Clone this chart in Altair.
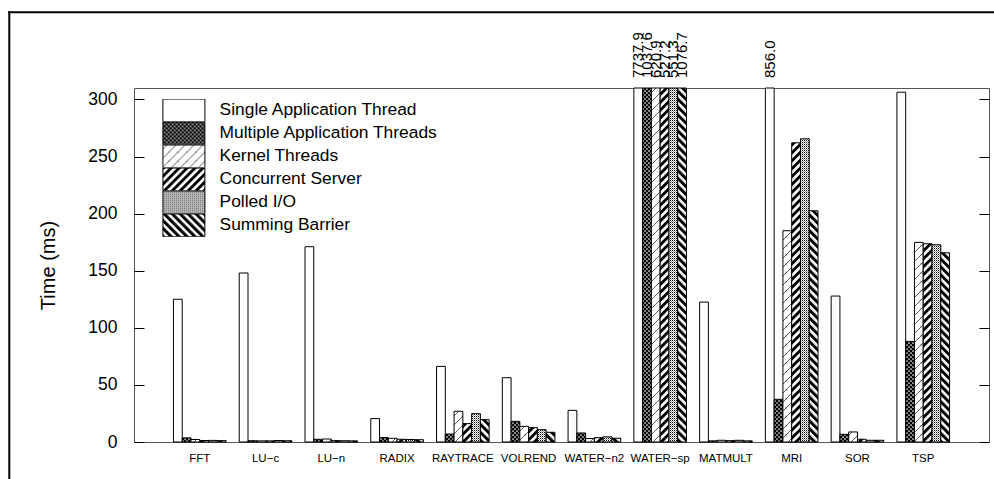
import altair as alt
import pandas as pd
import jinja2

# ---- data -------------------------------------------------------------
benchmarks = ["FFT", "LU\u2212c", "LU\u2212n", "RADIX", "RAYTRACE", "VOLREND",
              "WATER\u2212n2", "WATER\u2212sp", "MATMULT", "MRI", "SOR", "TSP"]
modes = ["Single Application Thread", "Multiple Application Threads",
         "Kernel Threads", "Concurrent Server", "Polled I/O", "Summing Barrier"]

single_app = [125.0, 148.0, 171.0, 20.5, 66.2, 56.3, 27.7, 7737.9, 122.5, 856.0, 127.8, 306.3]
multi_app = [3.6, 1.1, 2.4, 3.9, 7.0, 18.1, 7.9, 1037.6, 1.0, 37.4, 6.7, 88.1]
kernel_thr = [2.2, 1.0, 2.6, 3.2, 26.9, 13.7, 3.0, 620.9, 1.5, 185.0, 8.8, 174.8]
conc_server = [1.3, 1.0, 1.2, 2.4, 16.1, 12.6, 3.8, 527.2, 1.2, 262.0, 2.4, 173.6]
polled_io = [1.4, 1.3, 1.1, 2.2, 24.8, 10.8, 4.5, 551.3, 1.5, 265.5, 1.5, 172.7]
summing_bar = [1.2, 1.1, 1.0, 2.0, 19.6, 8.5, 3.3, 1076.7, 1.0, 202.5, 1.5, 165.7]

y_top = 310
y_ticks = [0, 50, 100, 150, 200, 250, 300]

series = [single_app, multi_app, kernel_thr, conc_server, polled_io, summing_bar]
rows = [
    {"benchmark": b, "mode": m, "time": v}
    for m, vals in zip(modes, series)
    for b, v in zip(benchmarks, vals)
]
df = pd.DataFrame(rows)

# fill styles: plain white plus hatch/stipple patterns defined in the page
fills = ["#ffffff", "url(#dots-dark)", "url(#thin-slash)",
         "url(#slash)", "url(#dots-light)", "url(#backslash)"]

FONT = "Liberation Sans"

x_enc = alt.X(
    "benchmark:N", sort=benchmarks,
    scale=alt.Scale(paddingInner=0.2, paddingOuter=0.6),
    axis=alt.Axis(title=None, labelAngle=0, labelFontSize=11.5, labelColor="black",
                  labelPadding=10, ticks=False, tickSize=0, domain=False, grid=False),
)
xoff_enc = alt.XOffset("mode:N", sort=modes,
                       scale=alt.Scale(paddingInner=0, paddingOuter=0))
y_enc = alt.Y(
    "time:Q",
    scale=alt.Scale(domain=[0, y_top], nice=False, clamp=True),
    axis=alt.Axis(values=y_ticks, title="Time (ms)", titleFontSize=20,
                  titleFontWeight="normal", titleColor="black", titlePadding=29,
                  labelFontSize=17.5, labelColor="black", labelPadding=17,
                  ticks=False, tickSize=0, domain=False,
                  grid=True, gridColor="black", gridOpacity=1, gridWidth=1,
                  gridDash=[10, 835]),
)

bars = alt.Chart(df).mark_bar(stroke="black", strokeWidth=1).encode(
    x=x_enc,
    xOffset=xoff_enc,
    y=y_enc,
    fill=alt.Fill(
        "mode:N", sort=modes,
        scale=alt.Scale(domain=modes, range=fills),
        legend=alt.Legend(
            title=None, orient="none", legendX=27.7, legendY=11, padding=0,
            symbolType="M-0.95,-1H2.75V1H-0.95Z", symbolSize=515,
            symbolStrokeColor="black", symbolStrokeWidth=1, symbolOffset=0,
            labelFontSize=17.4, labelColor="black", labelOffset=33.9,
            labelLimit=0, rowPadding=0, clipHeight=22.7,
        ),
    ),
)

# values of bars that run off the top of the axis, written above the frame
overflow = alt.Chart(df).transform_filter(
    alt.datum.time > y_top
).mark_text(angle=270, align="left", baseline="middle", dx=10,
            fontSize=15, color="black").encode(
    x=x_enc,
    xOffset=xoff_enc,
    y=y_enc,
    text=alt.Text("time:Q", format=".1f"),
)

# outer page border (top and left edges)
edge = pd.DataFrame({"edge": [0]})
border_top = alt.Chart(edge).mark_rule(color="black", strokeWidth=2).encode(
    x=alt.value(-126), x2=alt.value(900), y=alt.value(-75.7))
border_left = alt.Chart(edge).mark_rule(color="black", strokeWidth=2).encode(
    x=alt.value(-124.7), y=alt.value(-76.7), y2=alt.value(420))

chart = alt.layer(bars, overflow, border_top, border_left).properties(
    width=855, height=354,
    autosize=alt.AutoSizeParams(type="none"),
    padding={"left": 134, "top": 88, "right": 5, "bottom": 37},
).configure(
    font=FONT,
).configure_view(
    stroke="#555", strokeWidth=1,
)

PAGE = jinja2.Template("""<!DOCTYPE html>
<html>
<head>
  <meta charset="utf-8">
  <style>
    body { margin: 0; }
    #{{ output_div }}.vega-embed { width: 100%; display: flex; }
  </style>
  <script type="text/javascript" src="{{ base_url }}/vega@{{ vega_version }}"></script>
  <script type="text/javascript" src="{{ base_url }}/vega-lite@{{ vegalite_version }}"></script>
  <script type="text/javascript" src="{{ base_url }}/vega-embed@{{ vegaembed_version }}"></script>
</head>
<body>
  <svg width="0" height="0" style="position:absolute">
    <defs>
      <pattern id="dots-dark" width="4" height="4" patternUnits="userSpaceOnUse">
        <rect width="4" height="4" fill="#000"/>
        <circle cx="1" cy="1" r="0.85" fill="#fff"/>
        <circle cx="3" cy="3" r="0.85" fill="#fff"/>
      </pattern>
      <pattern id="thin-slash" width="9" height="9" patternUnits="userSpaceOnUse">
        <rect width="9" height="9" fill="#fff"/>
        <path d="M0,9 L9,0" stroke="#333" stroke-width="0.8"/>
        <path d="M3.5,4.2 L5.2,5.2" stroke="#333" stroke-width="0.7"/>
      </pattern>
      <pattern id="slash" width="5.6" height="5.6" patternUnits="userSpaceOnUse" patternTransform="rotate(45)">
        <rect width="5.6" height="5.6" fill="#fff"/>
        <rect width="2.9" height="5.6" fill="#000"/>
      </pattern>
      <pattern id="backslash" width="5.6" height="5.6" patternUnits="userSpaceOnUse" patternTransform="rotate(-45)">
        <rect width="5.6" height="5.6" fill="#fff"/>
        <rect width="3.0" height="5.6" fill="#000"/>
      </pattern>
      <pattern id="dots-light" width="2" height="2" patternUnits="userSpaceOnUse">
        <rect width="2" height="2" fill="#fff"/>
        <rect width="1" height="1" fill="#000"/>
        <rect x="1" y="1" width="1" height="1" fill="#999"/>
      </pattern>
    </defs>
  </svg>
  <div id="{{ output_div }}"></div>
  <script>
    (function(vegaEmbed) {
      var spec = {{ spec }};
      var embedOpt = {{ embed_options }};
      vegaEmbed("#{{ output_div }}", spec, embedOpt);
    })(vegaEmbed);
  </script>
</body>
</html>
""")

chart.save("out.html", embed_options={"renderer": "svg", "actions": False},
           template=PAGE)
